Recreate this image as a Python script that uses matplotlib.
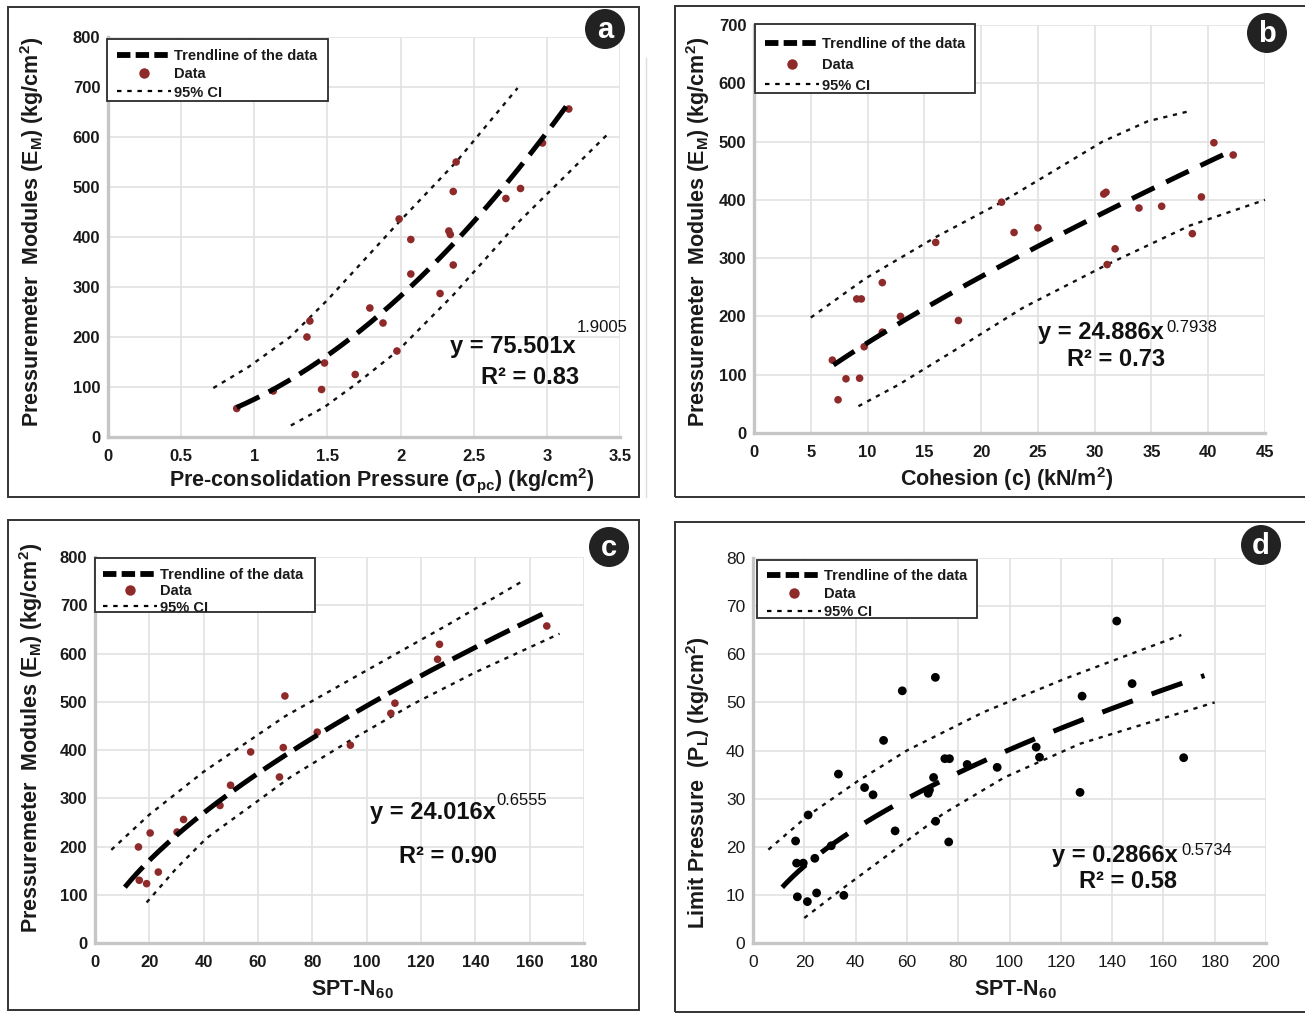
import matplotlib
matplotlib.use("Agg")
import matplotlib.pyplot as plt
from matplotlib.lines import Line2D
from matplotlib.patches import Rectangle, Ellipse
from matplotlib import font_manager
import numpy as np

# ---------------------------------------------------------------- data ----
# (a) pre-consolidation pressure vs pressuremeter modulus
a_x = [0.88, 1.13, 1.36, 1.38, 1.46, 1.48, 1.69, 1.79, 1.88, 1.975, 1.99, 2.07,
       2.07, 2.27, 2.33, 2.34, 2.36, 2.36, 2.38, 2.72, 2.82, 2.97, 3.15]
a_y = [57, 92, 200, 232, 95, 148, 125, 258, 228, 172, 436, 395,
       326, 287, 412, 405, 491, 344, 550, 477, 497, 588, 656]
a_fit = (75.501, 1.9005, 0.88, 3.17)
a_ci_up_x = [0.72, 0.96, 1.245, 1.5, 1.98, 2.38, 2.80]
a_ci_up_y = [98, 140, 200, 274, 427, 550, 698]
a_ci_lo_x = [1.25, 1.48, 1.70, 1.98, 2.36, 2.80, 3.41]
a_ci_lo_y = [23, 60, 107, 172, 284, 428, 604]

# (b) cohesion vs pressuremeter modulus
b_x = [6.9, 7.4, 8.1, 9.05, 9.3, 9.45, 9.7, 11.3, 11.3, 12.9, 16.0, 18.0, 21.8,
       22.9, 25.0, 30.8, 31.0, 31.1, 31.8, 33.9, 35.9, 38.6, 39.4, 40.5, 42.2]
b_y = [125, 57, 93, 230, 94, 230, 148, 173, 258, 200, 327, 193, 396,
       344, 352, 410, 413, 289, 316, 386, 389, 342, 405, 498, 477]
b_fit = (24.886, 0.7938, 7.0, 42.3)
b_ci_up_x = [5, 9.8, 16, 21.8, 26, 30.7, 34.7, 38.3]
b_ci_up_y = [198, 265, 336, 396, 445, 500, 535, 552]
b_ci_lo_x = [9.2, 12.75, 18.1, 23.7, 31.1, 38.4, 45]
b_ci_lo_y = [46, 83, 147, 215, 289, 356, 400]

# (c) SPT-N60 vs pressuremeter modulus
c_x = [16.0, 16.3, 19.0, 20.3, 23.3, 30.2, 32.6, 46.0, 49.9, 57.3, 67.9, 69.3,
       69.9, 81.8, 94.0, 108.9, 110.4, 126.1, 126.8, 166.3]
c_y = [199, 130, 123, 228, 147, 230, 256, 285, 327, 396, 344, 405,
       512, 437, 410, 476, 497, 588, 619, 657]
c_fit = (24.016, 0.6555, 11.0, 167.0)
c_ci_up_x = [6, 20, 40, 70, 100, 130, 158]
c_ci_up_y = [193, 266, 355, 470, 565, 660, 752]
c_ci_lo_x = [19, 30, 41, 72, 94, 117, 140, 171]
c_ci_lo_y = [84, 155, 217, 344, 420, 495, 561, 641]

# (d) SPT-N60 vs limit pressure
d_x = [16.6, 17.0, 17.3, 19.6, 21.2, 21.5, 24.1, 24.8, 30.5, 33.3, 35.4, 43.5,
       46.8, 50.9, 55.4, 58.2, 68.3, 68.8, 70.4, 71.1, 71.2, 74.8, 76.6, 76.3,
       83.5, 95.2, 110.4, 111.7, 127.5, 128.3, 141.8, 147.8, 167.9]
d_y = [21.2, 16.6, 9.6, 16.6, 8.6, 26.6, 17.6, 10.4, 20.2, 35.1, 9.9, 32.3,
       30.8, 42.1, 23.3, 52.4, 31.1, 31.8, 34.4, 55.2, 25.3, 38.3, 38.3, 21.0,
       37.1, 36.5, 40.7, 38.6, 31.3, 51.3, 66.9, 53.9, 38.5]
d_fit = (2.866, 0.5734, 11.4, 176.0)
d_ci_up_x = [6, 21.5, 41, 60, 90, 122, 167]
d_ci_up_y = [19.4, 26.5, 33.7, 40, 48, 55, 64]
d_ci_lo_x = [20, 35.4, 57.4, 74, 98, 127.5, 180]
d_ci_lo_y = [5.2, 11.5, 20.2, 26.8, 34.4, 41.4, 50]

a_xticks = [0, 0.5, 1, 1.5, 2, 2.5, 3, 3.5]
a_xticklabels = ["0", "0.5", "1", "1.5", "2", "2.5", "3", "3.5"]
a_yticks = list(range(0, 801, 100))
b_xticks = list(range(0, 46, 5))
b_yticks = list(range(0, 701, 100))
c_xticks = list(range(0, 181, 20))
c_yticks = list(range(0, 801, 100))
d_xticks = list(range(0, 201, 20))
d_yticks = list(range(0, 81, 10))

# ---------------------------------------------------------------- fonts ---
def have(name):
    try:
        font_manager.findfont(name, fallback_to_default=False)
        return True
    except Exception:
        return False

MAIN = "Liberation Sans" if have("Liberation Sans") else "DejaVu Sans"
NARROW = "Liberation Sans Narrow" if have("Liberation Sans Narrow") else MAIN

plt.rcParams["font.family"] = [MAIN, "DejaVu Sans"]
plt.rcParams["mathtext.fontset"] = "custom"
plt.rcParams["mathtext.rm"] = f"{MAIN}:bold"
plt.rcParams["mathtext.it"] = f"{MAIN}:bold"
plt.rcParams["mathtext.bf"] = f"{MAIN}:bold"
plt.rcParams["mathtext.sf"] = f"{MAIN}:bold"

W, H = 1305, 1013
fig = plt.figure(figsize=(W / 100, H / 100), dpi=100)
fig.patch.set_facecolor("white")


def fx(x):
    return x / W


def fy(y):
    return 1 - y / H


def axes_px(left, top, right, bottom):
    return fig.add_axes([fx(left), fy(bottom), (right - left) / W, (bottom - top) / H])


RED = "#8e2a2a"
GRID = "#e2e2e2"
SPINE = "#c6c6c6"
LEG_FS = 10.5            # legend font size (pt)
LEG_ROW_H = 13.4         # height of one legend text row (px)


def draw_panel(ax, xs, ys, fit, ci_up, ci_lo, xlim, ylim, xticks, yticks,
               dot_color, dashes, dot_size, xticklabels=None, narrow=False):
    ax.set_xlim(*xlim)
    ax.set_ylim(*ylim)
    ax.set_xticks(xticks)
    ax.set_yticks(yticks)
    if xticklabels is not None:
        ax.set_xticklabels(xticklabels)
    ax.grid(True, color=GRID, lw=1.2, zorder=0)
    ax.set_axisbelow(True)
    for s in ("top", "right"):
        ax.spines[s].set_visible(False)
    for s in ("left", "bottom"):
        ax.spines[s].set_color(SPINE)
        ax.spines[s].set_linewidth(2.4)
    if narrow:
        tick_font = dict(family=NARROW, weight="normal", size=12.5)
    else:
        tick_font = dict(family=MAIN, weight="bold", size=12)
    ax.tick_params(axis="both", length=0, colors="#1a1a1a")
    ax.tick_params(axis="y", pad=5.5)
    ax.tick_params(axis="x", pad=8.5)
    for lab in ax.get_xticklabels() + ax.get_yticklabels():
        lab.set_fontfamily(tick_font["family"])
        lab.set_fontweight(tick_font["weight"])
        lab.set_fontsize(tick_font["size"])

    # confidence band edges
    ax.plot(ci_up[0], ci_up[1], color="#111111", lw=1.7, dashes=(1.8, 2.4),
            zorder=2, clip_on=False)
    ax.plot(ci_lo[0], ci_lo[1], color="#111111", lw=1.7, dashes=(1.8, 2.4),
            zorder=2, clip_on=False)
    # observations
    ax.scatter(xs, ys, s=dot_size, color=dot_color, edgecolors="none", zorder=3)
    # power-law trendline
    coef, expo, lo, hi = fit
    xx = np.linspace(lo, hi, 200)
    ax.plot(xx, coef * xx ** expo, color="black", lw=3.6, dashes=dashes,
            solid_capstyle="butt", dash_capstyle="butt", zorder=4)


def add_legend(ax, box, handle_x, row_y, pitch, dot_color):
    """Framed key: box = (left, top, right, bottom) px, first row centred at row_y."""
    x0, y0, x1, y1 = box
    ax.add_artist(Rectangle((fx(x0), fy(y1)), (x1 - x0) / W, (y1 - y0) / H,
                            transform=fig.transFigure, facecolor="white",
                            edgecolor="#2b2b2b", lw=1.3, clip_on=False, zorder=5))
    handles = [
        Line2D([], [], color="black", lw=4.2, dashes=(2.3, 0.9), dash_capstyle="butt"),
        Line2D([], [], ls="none", marker="o", ms=7.5, mfc=dot_color, mec="none"),
        Line2D([], [], color="black", lw=1.6, dashes=(2.0, 2.6)),
    ]
    labels = ["Trendline of the data", "Data", "95% CI"]
    fs_px = LEG_FS * 100 / 72
    spacing = (pitch - LEG_ROW_H) / fs_px
    leg = ax.legend(handles, labels, loc="upper left",
                    bbox_to_anchor=(fx(handle_x), fy(row_y - LEG_ROW_H / 2)),
                    bbox_transform=fig.transFigure, frameon=False,
                    borderaxespad=0, borderpad=0,
                    prop=dict(family=MAIN, weight="bold", size=LEG_FS),
                    handlelength=3.7, handletextpad=0.22,
                    labelspacing=spacing)
    for t in leg.get_texts():
        t.set_color("#1a1a1a")
    leg.set_zorder(6)
    return leg


def equation(eq_left, eq_y, eq, exp_left, exp_y, exp, r2_cx, r2_y, r2):
    fig.text(fx(eq_left), fy(eq_y), eq, ha="left", va="center",
             fontsize=17, fontweight="bold", color="#111111")
    fig.text(fx(exp_left), fy(exp_y), exp, ha="left", va="center",
             fontsize=12, color="#111111")
    fig.text(fx(r2_cx), fy(r2_y), r2, ha="center", va="center",
             fontsize=17, fontweight="bold", color="#111111")


def badge(cx, cy, letter):
    r = 20
    fig.add_artist(Ellipse((fx(cx), fy(cy)), 2 * r / W, 2 * r / H,
                           transform=fig.transFigure, facecolor="#222222",
                           edgecolor="none", zorder=10))
    fig.text(fx(cx), fy(cy + 1), letter, ha="center", va="center",
             fontsize=21, fontweight="bold", color="white", zorder=11)


def frame(left, top, right, bottom):
    fig.add_artist(Rectangle((fx(left), fy(bottom)), (right - left) / W,
                             (bottom - top) / H, transform=fig.transFigure,
                             fill=False, edgecolor="#333333", lw=1.4, zorder=1))


LABEL = dict(fontsize=15.5, fontweight="bold", color="#1a1a1a")
EM_LABEL = r"Pressuremeter  Modules (E$_{\mathrm{M}}$) (kg/cm$^{\mathrm{2}}$)"

# panel frames
frame(8, 7, 639, 497)
frame(675, 6, 1312, 497)
frame(8, 520, 639, 1010)
frame(675, 522, 1312, 1012)
fig.add_artist(Line2D([fx(646), fx(646)], [fy(58), fy(497)],
                      transform=fig.transFigure, color="#dddddd", lw=1))

# ---------------------------------------------------------------- (a) -----
ax_a = axes_px(108, 37, 620, 437)
draw_panel(ax_a, a_x, a_y, a_fit, (a_ci_up_x, a_ci_up_y), (a_ci_lo_x, a_ci_lo_y),
           (0, 3.5), (0, 800), a_xticks, a_yticks, RED, (5, 2.1), 30,
           xticklabels=a_xticklabels)
add_legend(ax_a, (107, 39, 328, 101), 117, 56, 17.5, RED)
fig.text(fx(32), fy(232), EM_LABEL, rotation=90, ha="center", va="center", **LABEL)
fig.text(fx(382), fy(480), r"Pre-consolidation Pressure (σ$_{\mathrm{pc}}$) (kg/cm$^{\mathrm{2}}$)",
         ha="center", va="center", **LABEL)
equation(450, 347, "y = 75.501x", 577, 328, "1.9005", 530, 377, "R² = 0.83")
badge(605, 29, "a")

# ---------------------------------------------------------------- (b) -----
ax_b = axes_px(754, 25, 1265, 433)
draw_panel(ax_b, b_x, b_y, b_fit, (b_ci_up_x, b_ci_up_y), (b_ci_lo_x, b_ci_lo_y),
           (0, 45), (0, 700), b_xticks, b_yticks, RED, (5, 2.6), 30)
add_legend(ax_b, (755, 24, 975, 93), 765, 44, 20, RED)
fig.text(fx(698), fy(232), EM_LABEL, rotation=90, ha="center", va="center", **LABEL)
fig.text(fx(1007), fy(479), r"Cohesion (c) (kN/m$^{\mathrm{2}}$)",
         ha="center", va="center", **LABEL)
equation(1038, 333, "y = 24.886x", 1166, 328, "0.7938", 1116, 360, "R² = 0.73")
badge(1267, 33, "b")

# ---------------------------------------------------------------- (c) -----
ax_c = axes_px(95, 557, 584, 943)
draw_panel(ax_c, c_x, c_y, c_fit, (c_ci_up_x, c_ci_up_y), (c_ci_lo_x, c_ci_lo_y),
           (0, 180), (0, 800), c_xticks, c_yticks, RED, (5.5, 1.8), 30)
add_legend(ax_c, (95, 558, 315, 612), 103, 575, 15.5, RED)
fig.text(fx(31), fy(738), EM_LABEL, rotation=90, ha="center", va="center", **LABEL)
fig.text(fx(352), fy(990), r"SPT-N$_{\mathrm{60}}$", ha="center", va="center", **LABEL)
equation(370, 813, "y = 24.016x", 496, 800, "0.6555", 448, 856, "R² = 0.90")
badge(609, 547, "c")

# ---------------------------------------------------------------- (d) -----
ax_d = axes_px(753, 558, 1266, 943)
draw_panel(ax_d, d_x, d_y, d_fit, (d_ci_up_x, d_ci_up_y), (d_ci_lo_x, d_ci_lo_y),
           (0, 200), (0, 80), d_xticks, d_yticks, "black", (6.5, 4.0), 40,
           narrow=True)
add_legend(ax_d, (757, 560, 977, 618), 767, 576, 17.5, RED)
fig.text(fx(698), fy(783), r"Limit Pressure  (P$_{\mathrm{L}}$) (kg/cm$^{\mathrm{2}}$)",
         rotation=90, ha="center", va="center", **LABEL)
fig.text(fx(1015), fy(990), r"SPT-N$_{\mathrm{60}}$", ha="center", va="center", **LABEL)
equation(1052, 855, "y = 0.2866x", 1181, 850, "0.5734", 1128, 881, "R² = 0.58")
badge(1261, 545, "d")

fig.savefig("out.png", dpi=100, facecolor="white")
